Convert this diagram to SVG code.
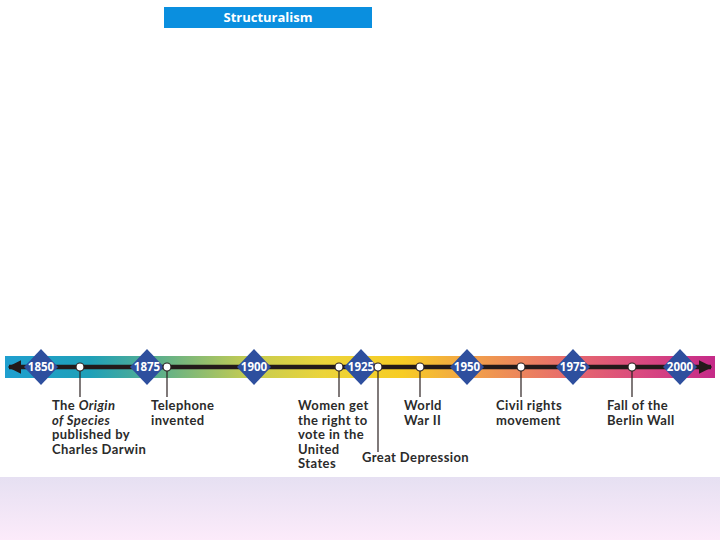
<svg xmlns="http://www.w3.org/2000/svg" width="720" height="540" viewBox="0 0 720 540">
<defs>
<linearGradient id="band" x1="0" y1="0" x2="1" y2="0">
<stop offset="0" stop-color="#1f9fcf"/>
<stop offset="0.12" stop-color="#1fa0b8"/>
<stop offset="0.22" stop-color="#5fb08a"/>
<stop offset="0.34" stop-color="#c3cb52"/>
<stop offset="0.45" stop-color="#ecd43a"/>
<stop offset="0.56" stop-color="#f7cc24"/>
<stop offset="0.66" stop-color="#f1a04a"/>
<stop offset="0.78" stop-color="#e8706a"/>
<stop offset="0.9" stop-color="#d94880"/>
<stop offset="1" stop-color="#c52a88"/>
</linearGradient>
<linearGradient id="foot" x1="0" y1="0" x2="0" y2="1">
<stop offset="0" stop-color="#e6e0f2"/>
<stop offset="1" stop-color="#fcebfa"/>
</linearGradient>
<marker id="ah" viewBox="0 0 10 10" refX="9" refY="5" markerWidth="3" markerHeight="3" orient="auto-start-reverse">
<path d="M0,0 L10,5 L0,10 Z" fill="#231a1a"/>
</marker>
</defs>
<style>
.yr{fill:#2e4f9e}
.yt{font-family:"Open Sans","DejaVu Sans",sans-serif;font-weight:700;font-size:11.5px;fill:#fff;text-anchor:middle}
.ev{fill:#fff;stroke:#2a2020;stroke-width:1.2}
.tk{stroke:#2a2020;stroke-width:1.2}
.lb{font-family:Lato,"Open Sans",sans-serif;font-weight:700;font-size:13px;letter-spacing:0.4px;fill:#2b2b2b}
</style>
<rect width="720" height="540" fill="#fff"/>
<rect x="0" y="477" width="720" height="63" fill="url(#foot)"/>
<g id="title">
<rect x="164" y="7" width="208" height="21" fill="#0a8fdf"/>
<text x="268" y="22" style="font-family:'Open Sans','DejaVu Sans',sans-serif;font-weight:700;font-size:13px;fill:#fff;text-anchor:middle">Structuralism</text>
</g>
<g id="timeline">
<rect x="5" y="356" width="710" height="22" fill="url(#band)"/>
<line x1="9" y1="367" x2="711" y2="367" stroke="#231a1a" stroke-width="4.5" marker-start="url(#ah)" marker-end="url(#ah)"/>
</g>
<g id="connectors">
<line class="tk" x1="80" y1="371" x2="80" y2="397"/>
<line class="tk" x1="167" y1="371" x2="167" y2="397"/>
<line class="tk" x1="339" y1="371" x2="339" y2="397"/>
<line class="tk" x1="378" y1="371" x2="378" y2="452"/>
<line class="tk" x1="420" y1="371" x2="420" y2="397"/>
<line class="tk" x1="521" y1="371" x2="521" y2="397"/>
<line class="tk" x1="632" y1="371" x2="632" y2="397"/>
</g>
<g id="y1850"><path class="yr" d="M41,349 L58,367 L41,385 L24,367 Z"/><text class="yt" x="41" y="371">1850</text></g>
<g id="y1875"><path class="yr" d="M147,349 L164,367 L147,385 L130,367 Z"/><text class="yt" x="147" y="371">1875</text></g>
<g id="y1900"><path class="yr" d="M254,349 L271,367 L254,385 L237,367 Z"/><text class="yt" x="254" y="371">1900</text></g>
<g id="y1925"><path class="yr" d="M361,349 L378,367 L361,385 L344,367 Z"/><text class="yt" x="361" y="371">1925</text></g>
<g id="y1950"><path class="yr" d="M467,349 L484,367 L467,385 L450,367 Z"/><text class="yt" x="467" y="371">1950</text></g>
<g id="y1975"><path class="yr" d="M573,349 L590,367 L573,385 L556,367 Z"/><text class="yt" x="573" y="371">1975</text></g>
<g id="y2000"><path class="yr" d="M680,349 L697,367 L680,385 L663,367 Z"/><text class="yt" x="680" y="371">2000</text></g>
<g id="e-darwin"><circle class="ev" cx="80" cy="367" r="4"/>
<text class="lb" x="52" y="410">The <tspan font-style="italic">Origin</tspan></text>
<text class="lb" x="52" y="424.5" font-style="italic">of Species</text>
<text class="lb" x="52" y="439">published by</text>
<text class="lb" x="52" y="453.5">Charles Darwin</text></g>
<g id="e-telephone"><circle class="ev" cx="167" cy="367" r="4"/>
<text class="lb" x="151" y="410">Telephone</text>
<text class="lb" x="151" y="424.5">invented</text></g>
<g id="e-women"><circle class="ev" cx="339" cy="367" r="4"/>
<text class="lb" x="298" y="410">Women get</text>
<text class="lb" x="298" y="424.5">the right to</text>
<text class="lb" x="298" y="439">vote in the</text>
<text class="lb" x="298" y="453.5">United</text>
<text class="lb" x="298" y="468">States</text></g>
<g id="e-depression"><circle class="ev" cx="378" cy="367" r="4"/>
<text class="lb" x="362" y="462">Great Depression</text></g>
<g id="e-ww2"><circle class="ev" cx="420" cy="367" r="4"/>
<text class="lb" x="404" y="410">World</text>
<text class="lb" x="404" y="424.5">War II</text></g>
<g id="e-civil"><circle class="ev" cx="521" cy="367" r="4"/>
<text class="lb" x="496" y="410">Civil rights</text>
<text class="lb" x="496" y="424.5">movement</text></g>
<g id="e-berlin"><circle class="ev" cx="632" cy="367" r="4"/>
<text class="lb" x="607" y="410">Fall of the</text>
<text class="lb" x="607" y="424.5">Berlin Wall</text></g>
</svg>
